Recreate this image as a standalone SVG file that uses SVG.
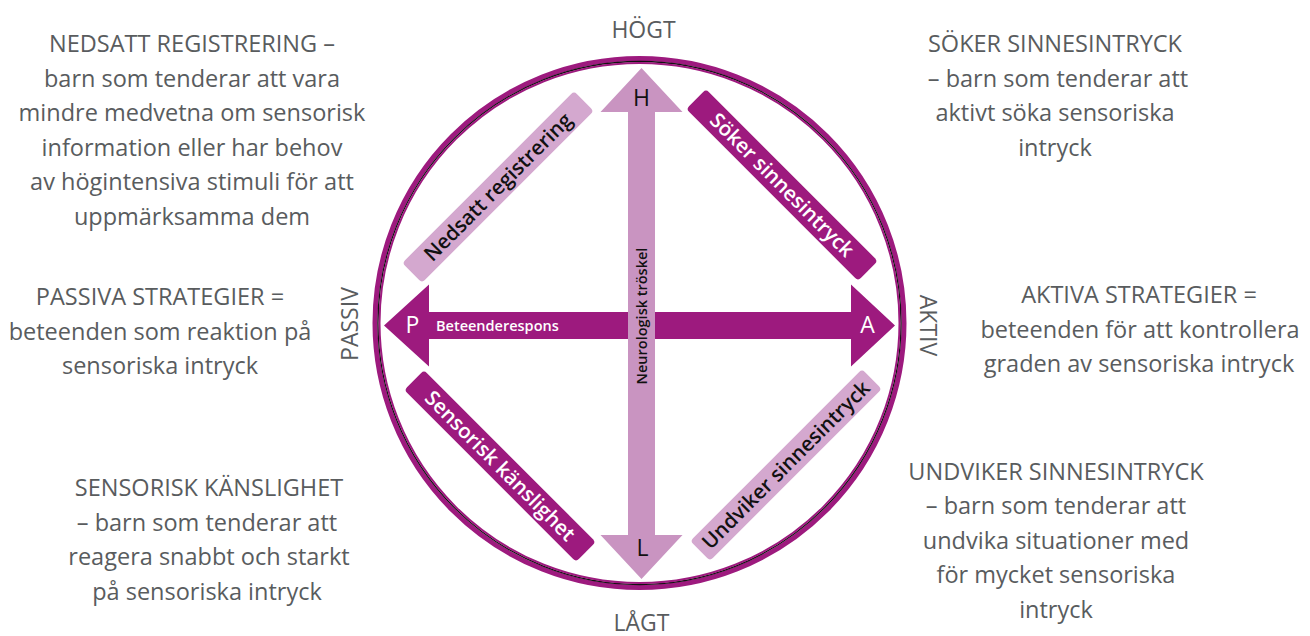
<svg xmlns="http://www.w3.org/2000/svg" width="1310" height="636" viewBox="0 0 1310 636">
<style>
.desc{font-family:"Open Sans","Noto Sans","DejaVu Sans",sans-serif;font-size:23.5px;fill:#595c5e;text-anchor:middle}
.axis{font-family:"Open Sans","Noto Sans","DejaVu Sans",sans-serif;font-size:23px;fill:#595c5e;text-anchor:middle}
.box-light{fill:#d4a8cf}
.box-dark{fill:#9d1a7e}
.boxtxt{font-family:"Open Sans","Noto Sans","DejaVu Sans",sans-serif;font-size:20.5px;font-weight:600;text-anchor:middle}
.letter{font-family:"Open Sans","Noto Sans","DejaVu Sans",sans-serif;font-size:23px;text-anchor:middle}
.small{font-family:"Open Sans","Noto Sans","DejaVu Sans",sans-serif;font-size:14.5px;font-weight:600}
</style>
<rect width="1310" height="636" fill="#ffffff"/>

<g id="ring">
  <circle cx="639.5" cy="323" r="264.5" fill="none" stroke="#9d1a7e" stroke-width="5"/>
  <circle cx="639.5" cy="323" r="261.5" fill="none" stroke="#111111" stroke-width="1.3"/>
  <circle cx="639.5" cy="323" r="260" fill="none" stroke="#9d1a7e" stroke-width="2"/>
</g>

<g id="connectors">
  <g id="arrow-behaviour">
    <polygon points="384,325.5 429,284.5 429,312 851,312 851,284.5 895,325.5 851,366.5 851,339 429,339 429,366.5" fill="#9d1a7e"/>
    <text class="small" x="436" y="331" fill="#ffffff">Beteenderespons</text>
    <text class="letter" x="412.5" y="333" fill="#ffffff">P</text>
    <text class="letter" x="867.5" y="333" fill="#ffffff">A</text>
  </g>
  <g id="arrow-threshold">
    <polygon points="641.5,68 682.5,112 655,112 655,535 682.5,535 641.5,579 600.5,535 628,535 628,112 600.5,112" fill="#c994c1"/>
    <text class="small" transform="translate(646.5,316) rotate(-90)" text-anchor="middle" fill="#111111">Neurologisk tröskel</text>
    <text class="letter" x="641.5" y="106" fill="#111111">H</text>
    <text class="letter" x="642.5" y="556" fill="#111111">L</text>
  </g>
</g>

<g id="node-nedsatt" transform="translate(498,187) rotate(-45)">
  <rect class="box-light" x="-121.5" y="-14" width="243" height="28" rx="4"/>
  <text class="boxtxt" x="0" y="7" fill="#111111">Nedsatt registrering</text>
</g>
<g id="node-soker" transform="translate(782,185) rotate(45)">
  <rect class="box-dark" x="-121.5" y="-14" width="243" height="28" rx="4"/>
  <text class="boxtxt" x="0" y="7" fill="#ffffff">Söker sinnesintryck</text>
</g>
<g id="node-sensorisk" transform="translate(500,466) rotate(45)">
  <rect class="box-dark" x="-121.5" y="-14" width="243" height="28" rx="4"/>
  <text class="boxtxt" x="0" y="7" fill="#ffffff">Sensorisk känslighet</text>
</g>
<g id="node-undviker" transform="translate(786,465) rotate(-45)">
  <rect class="box-light" x="-121.5" y="-14" width="243" height="28" rx="4"/>
  <text class="boxtxt" x="0" y="7" fill="#111111">Undviker sinnesintryck</text>
</g>

<g id="axis-labels">
  <text class="axis" x="643.5" y="38">HÖGT</text>
  <text class="axis" x="641.5" y="631">LÅGT</text>
  <text class="axis" transform="translate(358,324) rotate(-90)">PASSIV</text>
  <text class="axis" transform="translate(920,325.5) rotate(90)">AKTIV</text>
</g>

<g id="desc-nedsatt">
  <text class="desc" x="192" y="52">NEDSATT REGISTRERING –</text>
  <text class="desc" x="192" y="86.5">barn som tenderar att vara</text>
  <text class="desc" x="192" y="121">mindre medvetna om sensorisk</text>
  <text class="desc" x="192" y="155.5">information eller har behov</text>
  <text class="desc" x="192" y="190">av högintensiva stimuli för att</text>
  <text class="desc" x="192" y="224.5">uppmärksamma dem</text>
</g>
<g id="desc-soker">
  <text class="desc" x="1055" y="52">SÖKER SINNESINTRYCK</text>
  <text class="desc" x="1058" y="86.5">– barn som tenderar att</text>
  <text class="desc" x="1055" y="121">aktivt söka sensoriska</text>
  <text class="desc" x="1055" y="155.5">intryck</text>
</g>
<g id="desc-passiva">
  <text class="desc" x="160" y="305">PASSIVA STRATEGIER =</text>
  <text class="desc" x="160" y="339.5">beteenden som reaktion på</text>
  <text class="desc" x="160" y="374">sensoriska intryck</text>
</g>
<g id="desc-aktiva">
  <text class="desc" x="1139" y="303">AKTIVA STRATEGIER =</text>
  <text class="desc" x="1140" y="337.5">beteenden för att kontrollera</text>
  <text class="desc" x="1139" y="372">graden av sensoriska intryck</text>
</g>
<g id="desc-sensorisk">
  <text class="desc" x="209" y="496">SENSORISK KÄNSLIGHET</text>
  <text class="desc" x="207" y="530.5">– barn som tenderar att</text>
  <text class="desc" x="209" y="565">reagera snabbt och starkt</text>
  <text class="desc" x="207" y="599.5">på sensoriska intryck</text>
</g>
<g id="desc-undviker">
  <text class="desc" x="1056" y="479.5">UNDVIKER SINNESINTRYCK</text>
  <text class="desc" x="1056" y="514">– barn som tenderar att</text>
  <text class="desc" x="1056" y="548.5">undvika situationer med</text>
  <text class="desc" x="1056" y="583">för mycket sensoriska</text>
  <text class="desc" x="1056" y="617.5">intryck</text>
</g>
</svg>
